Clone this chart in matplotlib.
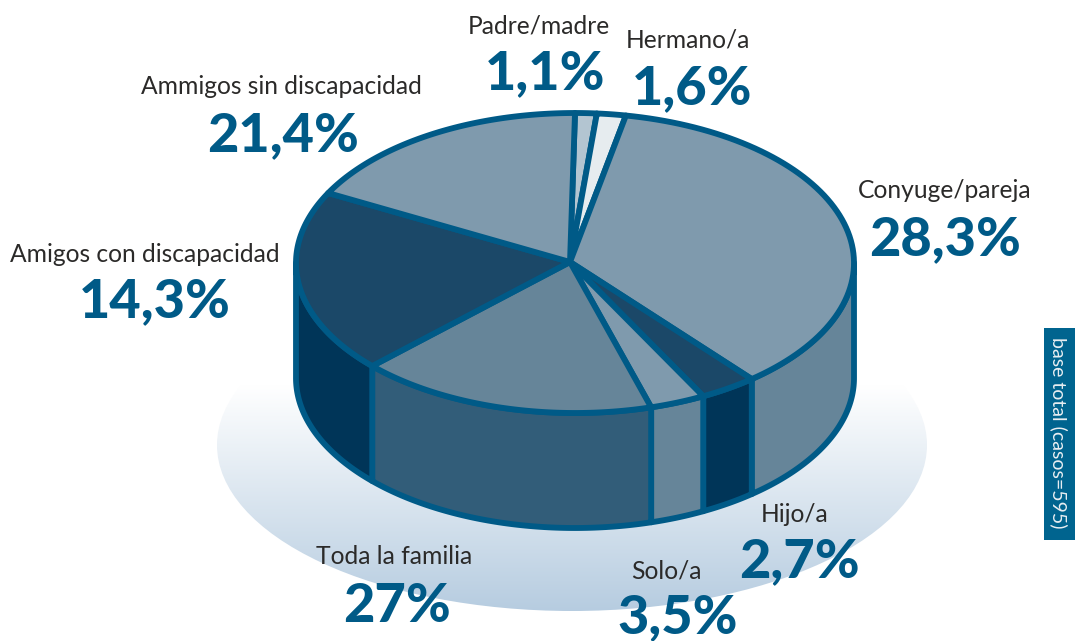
import numpy as np
import matplotlib
matplotlib.use('Agg')
import matplotlib.pyplot as plt
from matplotlib.patches import Ellipse, Polygon, Rectangle

# Labels as printed, clockwise from the top
labels = ['Padre/madre', 'Hermano/a', 'Conyuge/pareja', 'Hijo/a', 'Solo/a',
          'Toda la familia', 'Amigos con discapacidad', 'Ammigos sin discapacidad']
values = ['1,1%', '1,6%', '28,3%', '2,7%', '3,5%', '27%', '14,3%', '21,4%']

# Share of the circle each slice really takes in the drawing (not the printed %)
drawn_share = [1.25, 1.67, 36.16, 3.32, 3.2, 17.35, 19.77, 17.28]

top_colors = ['#b3c5d1', '#e6ecef', '#7f9aad', '#1b4868', '#7f9aad', '#668599', '#1b4868', '#7f9aad']
side_colors = ['#668599', '#668599', '#668599', '#003558', '#668599', '#325d79', '#003558', '#003558']

# Text centres in pixels
label_pos = [(539, 26), (688, 40), (945, 191), (795, 514), (666, 571), (394, 557), (145, 254), (281, 87)]
value_pos = [(545, 74), (692, 89), (945, 240), (799, 562), (678, 618), (397, 606), (155, 302), (283, 136)]

EDGE = '#005a87'
LW = 4.2
cx, cy, rx, ry = 575, 263, 279, 150
apex = (570, 262)
depth = 115


def rim(a0, a1, dy=0):
    # points on the rim, angles in degrees clockwise from the top
    t = np.radians(np.linspace(a0, a1, 80))
    return np.column_stack([cx + rx * np.sin(t), cy - ry * np.cos(t) + dy])


fig = plt.figure(figsize=(10.75, 6.41), dpi=100)
ax = fig.add_axes([0, 0, 1, 1])
ax.set_xlim(0, 1075)
ax.set_ylim(641, 0)
ax.axis('off')

# Shadow ellipse with a vertical fade
grad = np.linspace(0, 1, 256).reshape(-1, 1)
cmap = matplotlib.colors.LinearSegmentedColormap.from_list('fade', ['#ffffff', '#b6cce0'])
im = ax.imshow(grad, extent=(200, 945, 612, 385), cmap=cmap, aspect='auto', zorder=1)
im.set_clip_path(Ellipse((572, 445), 710, 332, transform=ax.transData))
ax.set_xlim(0, 1075)
ax.set_ylim(641, 0)

edges = np.concatenate([[0], np.cumsum(drawn_share)]) * 3.6

# Walls: only the front half of the cake shows
for i in range(len(drawn_share)):
    a0 = max(edges[i], 90)
    a1 = min(edges[i + 1], 270)
    if a1 <= a0:
        continue
    pts = np.vstack([rim(a0, a1), rim(a0, a1, depth)[::-1]])
    ax.add_patch(Polygon(pts, closed=True, facecolor=side_colors[i], edgecolor=EDGE,
                         linewidth=LW, joinstyle='round', zorder=2))

# Top slices
for i in range(len(drawn_share)):
    pts = np.vstack([[apex], rim(edges[i], edges[i + 1])])
    ax.add_patch(Polygon(pts, closed=True, facecolor=top_colors[i], edgecolor=EDGE,
                         linewidth=LW, joinstyle='round', zorder=3))

for i in range(len(labels)):
    ax.text(*label_pos[i], labels[i], family='Lato', fontsize=17.7, color='#2b2a29',
            ha='center', va='center', zorder=5)
    ax.text(*value_pos[i], values[i], family='Lato', fontweight='black', fontsize=39,
            color='#005a87', ha='center', va='center', zorder=5)

# Side tab
ax.add_patch(Rectangle((1044, 328), 31, 212, facecolor='#00648f', edgecolor='none', zorder=4))
ax.text(1059, 433, 'base total (casos=595)', family='Lato', fontsize=14, color='#e8eef2',
        rotation=270, ha='center', va='center', zorder=5)

fig.savefig('out.png', dpi=100)
